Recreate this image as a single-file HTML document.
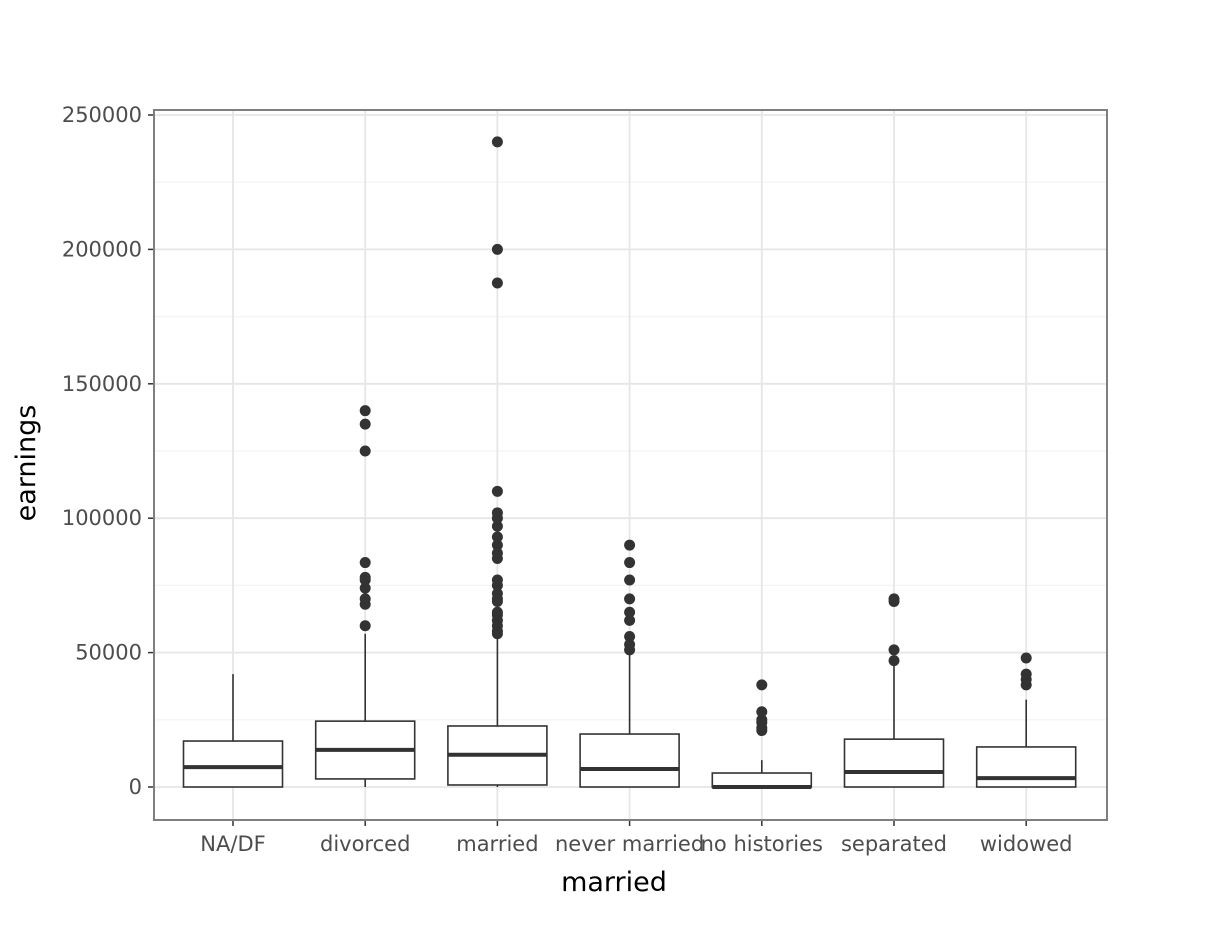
<!DOCTYPE html>
<html><head><meta charset="utf-8"><style>
body{margin:0;background:#fff;}
svg text{font-family:"DejaVu Sans","Liberation Sans",sans-serif;}
</style></head><body>
<svg id="chart" width="1228" height="921" xmlns="http://www.w3.org/2000/svg">
<rect width="1228" height="921" fill="#fff"/>
<g id="grid"></g><g id="marks"></g><g id="axes"></g>
</svg>
<script>
const categories=["NA/DF","divorced","married","never married","no histories","separated","widowed"];
const lowerWhisker=[0,0,0,0,0,0,0];
const q1=[0,3000,750,0,0,0,0];
const medians=[7400,13800,12000,6700,0,5600,3300];
const q3=[17100,24500,22700,19700,5200,17800,14900];
const upperWhisker=[42000,57000,57000,50000,10000,45000,32500];
const outliers=[
 [],
 [60000,68000,70000,74000,77000,78000,83500,125000,135000,140000],
 [57000,58000,60000,62000,64000,65000,69000,70000,72000,75000,77000,85000,87000,90000,93000,97000,100000,102000,110000,187500,200000,240000],
 [51000,53000,56000,62000,65000,70000,77000,83500,90000],
 [21000,22000,24000,25000,28000,38000],
 [47000,51000,69000,70000],
 [38000,40000,42000,48000]
];
const yTicks=[0,50000,100000,150000,200000,250000];
const NS="http://www.w3.org/2000/svg";
const L=154,R=1107,T=110,B=820;
const y=v=>787-v*0.002688;
const x=i=>233+i*132.2;
function mk(p,tag,a){const e=document.createElementNS(NS,tag);for(const k in a)e.setAttribute(k,a[k]);p.appendChild(e);return e;}
const g=document.getElementById('grid'),m=document.getElementById('marks'),ax=document.getElementById('axes');
const bg=mk(g,'rect',{x:L,y:T,width:R-L,height:B-T,fill:'#fff'});

for(let i=0;i<yTicks.length;i++){
 const v=yTicks[i];
 if(i<yTicks.length-1){const mn=mk(g,'line',{x1:L,x2:R,y1:y(v+25000),y2:y(v+25000),stroke:'#f4f4f4','stroke-width':1.3});
 }
 const gl=mk(g,'line',{x1:L,x2:R,y1:y(v),y2:y(v),stroke:'#e6e6e6','stroke-width':1.8});
 
 const tk=mk(ax,'line',{x1:L-6,x2:L,y1:y(v),y2:y(v),stroke:'#333','stroke-width':1.5});
 
 const t=mk(ax,'text',{x:L-12,y:y(v)+7,'text-anchor':'end','font-size':21,fill:'#4d4d4d'});t.textContent=v;
 
}
categories.forEach((c,i)=>{
 const cx=x(i);
 const vg=mk(g,'line',{x1:cx,x2:cx,y1:T,y2:B,stroke:'#e6e6e6','stroke-width':1.8});
 
 const bx=mk(m,'g',{});
 mk(bx,'line',{x1:cx,x2:cx,y1:y(q3[i]),y2:y(upperWhisker[i]),stroke:'#333','stroke-width':1.6});
 mk(bx,'line',{x1:cx,x2:cx,y1:y(q1[i]),y2:y(lowerWhisker[i]),stroke:'#333','stroke-width':1.6});
 mk(bx,'rect',{x:cx-49.5,y:y(q3[i]),width:99,height:Math.max(0,y(q1[i])-y(q3[i])),fill:'#fff',stroke:'#333','stroke-width':1.6});
 mk(bx,'line',{x1:cx-49.5,x2:cx+49.5,y1:y(medians[i]),y2:y(medians[i]),stroke:'#333','stroke-width':4});
 outliers[i].forEach(v=>{const p=mk(m,'circle',{cx:cx,cy:y(v),r:5.5,fill:'#333'});
  });
 const tk=mk(ax,'line',{x1:cx,x2:cx,y1:B,y2:B+6,stroke:'#333','stroke-width':1.5});
 
 const t=mk(ax,'text',{x:cx,y:B+31,'text-anchor':'middle','font-size':21,fill:'#4d4d4d'});t.textContent=c;
 
});
const br=mk(ax,'rect',{x:L,y:T,width:R-L,height:B-T,fill:'none',stroke:'#7f7f7f','stroke-width':2});

const xt=mk(ax,'text',{x:614,y:891,'text-anchor':'middle','font-size':27,fill:'#000'});xt.textContent='married';

const yt=mk(ax,'text',{x:0,y:0,'text-anchor':'middle','font-size':27,fill:'#000',transform:'translate(35,463) rotate(-90)'});yt.textContent='earnings';

</script>
</body></html>
